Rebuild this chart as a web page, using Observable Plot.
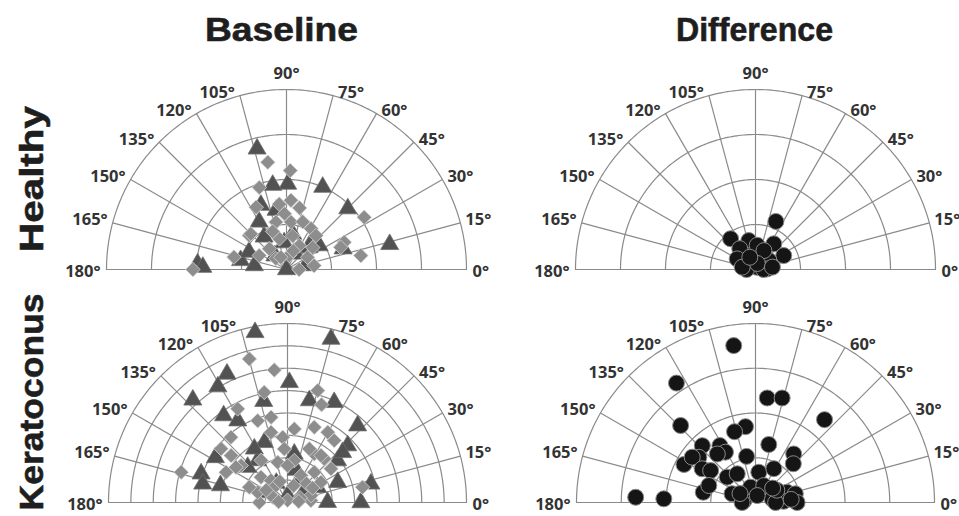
<!DOCTYPE html>
<html>
<head>
<meta charset="utf-8">
<script src="https://cdn.jsdelivr.net/npm/d3@7"></script>
<script src="https://cdn.jsdelivr.net/npm/@observablehq/plot@0.6"></script>
<style>
  html, body { margin: 0; padding: 0; background: #fff; overflow: hidden; }
  #fig { position: relative; width: 959px; height: 516px; overflow: hidden; }
  .panel { position: absolute; width: 480px; height: 240px; }
  .panel svg { max-width: none !important; }
  #labels { position: absolute; left: 0; top: 0; }
</style>
</head>
<body>
<div id="fig">
  <svg id="labels" width="959" height="516"></svg>
</div>
<script>
// Axis ticks of the half-polar plots (degrees)
const angleTicks = [0, 15, 30, 45, 60, 75, 90, 105, 120, 135, 150, 165, 180];

const columnTitles = ["Baseline", "Difference"];
const rowTitles = ["Healthy", "Keratoconus"];

// [axis (deg), magnitude] — healthy eyes, baseline, triangle series
const healthyBaselineTri = [
  [103.7, 1.38], [89.2, 0.95], [99.3, 0.95], [66.3, 1.0], [44.8, 0.96], [13.7, 1.18],
  [119.9, 0.61], [100, 0.67], [176.3, 0.99], [178.4, 0.93], [172.9, 0.36], [90, 0.0],
  [20.2, 0.67], [49.3, 0.47], [124.5, 0.44], [168.8, 0.52], [111.7, 0.77], [11.6, 0.22],
  [36.2, 0.45], [155, 0.46], [44.4, 0.35], [80, 0.4], [95, 0.3], [60, 0.2], [130, 0.2]
];
// healthy eyes, baseline, diamond series
const healthyBaselineDia = [
  [99.9, 1.21], [87.8, 1.1], [108.3, 0.96], [116, 0.77], [33.9, 1.04], [25.3, 0.71],
  [10.6, 0.84], [180, 1.04], [166.7, 0.6], [86.3, 0.77], [96.3, 0.73], [137.6, 0.56],
  [0, 0.14], [22.3, 0.65], [102.5, 0.54], [84.6, 0.53], [71.1, 0.56], [59, 0.53],
  [49, 0.5], [103, 0.35], [79.6, 0.38], [62, 0.3], [129.7, 0.3], [152.8, 0.34],
  [135, 0.56], [79, 0.16], [134, 0.17], [30, 0.27], [8, 0.31], [92, 0.62], [78, 0.7],
  [110, 0.45], [70, 0.22], [115, 0.15], [40, 0.38]
];
// healthy eyes, difference
const healthyDifference = [
  [67, 0.58], [129, 0.44], [103, 0.33], [54.5, 0.35], [26.3, 0.35], [34, 0.18],
  [109.7, 0.165], [140.6, 0.22], [127, 0.29], [169, 0.13], [54, 0.03], [3, 0.13],
  [86, 0.27], [66, 0.23], [180, 0.1], [0, 0.09], [150, 0.235], [73, 0.07], [8, 0.19],
  [170, 0.15], [115, 0.15]
];
// keratoconus eyes, baseline, triangle series
const keratoBaselineTri = [
  [100.8, 7.74], [75.1, 7.56], [115.2, 6.35], [121, 6.04], [132.7, 6.24], [89.1, 5.37],
  [103.2, 4.65], [77.9, 4.66], [65, 4.94], [126.3, 4.82], [121.3, 4.28], [47.6, 4.65],
  [111, 2.88], [43.4, 3.7], [125.4, 2.3], [82, 2.19], [39.9, 2.92], [161.6, 4.07],
  [167.6, 3.88], [165.8, 3.09], [0.4, 1.79], [0, 3.28], [12.6, 3.82], [22, 2.42],
  [148, 3.8], [42.3, 3.33], [138.4, 2.38], [26.9, 1.51], [121.7, 2.82],
  [90, 0.3], [60, 1.2], [120, 1.0], [30, 0.8], [150, 0.9], [75, 1.5]
];
// keratoconus eyes, baseline, diamond series
const keratoBaselineDia = [
  [104.9, 6.64], [95.7, 5.95], [101.9, 5.03], [74.9, 5.18], [70.8, 4.63], [118, 4.74],
  [100.9, 3.88], [130.9, 3.86], [141, 3.82], [140.2, 3.28], [164.1, 4.94], [84.7, 3.3],
  [70.4, 3.57], [60.2, 3.62], [53, 3.47], [61.2, 2.48], [49.9, 2.55], [122, 2.22],
  [103.2, 3.22], [94.2, 2.92], [11.5, 3.42], [180, 1.26], [4.9, 1.05], [141.5, 2.65],
  [153.8, 3.06], [145.6, 2.79], [110, 3.89], [67.9, 2.59], [54.5, 2.58], [37.8, 2.46],
  [93.4, 2.4], [136.3, 1.64], [126.9, 1.23], [63.4, 1.35], [48.5, 1.81], [31.2, 1.75],
  [16.6, 1.1], [160.9, 1.41], [158.2, 1.84], [90, 0.1], [80.8, 1.9], [103.7, 1.85],
  [90, 1.65], [45, 1.2], [135, 0.9], [20, 0.6], [160, 0.7], [110, 1.0], [70, 0.8],
  [30, 1.3], [150, 1.1], [5, 0.5], [175, 0.4]
];
// keratoconus eyes, difference
const keratoDifference = [
  [97.9, 3.54], [123.5, 3.2], [83.6, 2.35], [75.7, 2.41], [50.2, 2.41], [134.2, 2.4],
  [97.5, 1.71], [106.5, 1.65], [77.1, 1.33], [51.8, 1.38], [45.7, 1.21], [133.1, 1.74],
  [122, 1.5], [120.8, 1.31], [128.2, 1.38], [141.4, 1.62], [152, 1.81], [144.4, 1.74],
  [147.7, 1.41], [144.6, 1.23], [101, 1.05], [138.2, 0.85], [83.8, 0.68], [61.5, 0.86],
  [122.5, 0.76], [168.9, 1.19], [160, 1.11], [177.5, 2.68], [177.7, 2.05], [159.5, 0.56],
  [108, 0.36], [64, 0.42], [12.5, 0.38], [18, 0.74], [12.3, 0.91], [0, 0.93], [2.5, 0.63],
  [170, 0.26], [76, 0.16], [0, 0.45], [180, 0.3], [30, 0.55], [5, 0.8], [40, 0.5], [150, 0.4]
];

const GRID = "#8a8a8a";
const LABEL_FONT = "'Open Sans', Lato, sans-serif";
const rad = d => d * Math.PI / 180;
const polar = ([a, m]) => ({axis: a, mag: m, x: m * Math.cos(rad(a)), y: m * Math.sin(rad(a))});

const triStyle = {symbol: "triangle", r: 6.7, fill: "#525252", stroke: "#6e6e6e", strokeWidth: 0.8};
const diaStyle = {symbol: "diamond2", r: 6.6, fill: "#8d8d8d", stroke: "#d6d6d6", strokeWidth: 0.8};
const dotStyle = {symbol: "circle", r: 8, fill: "#151515", stroke: "#8a8a8a", strokeWidth: 1};

function halfPolar({rmax, rings, R, series}) {
  const W = 480, H = 240, cx = 240, cy = 210;
  const ringValues = d3.range(1, rings + 1).map(i => rmax * i / rings);
  const arcs = ringValues.flatMap(r => d3.range(0, 181, 1).map(a => ({ring: r, x: r * Math.cos(rad(a)), y: r * Math.sin(rad(a))})));
  const ticks = angleTicks.map(a => ({a, label: a + "°", x: rmax * Math.cos(rad(a)), y: rmax * Math.sin(rad(a))}));
  const textOpts = {x: "x", y: "y", text: "label", fontFamily: LABEL_FONT, fontWeight: "bold", fontSize: 16.5, fill: "#333"};
  return Plot.plot({
    width: W, height: H, margin: 0,
    x: {axis: null, domain: [-rmax, rmax], range: [cx - R, cx + R]},
    y: {axis: null, domain: [0, rmax], range: [cy, cy - R]},
    style: {overflow: "visible", background: "transparent"},
    marks: [
      Plot.line(arcs, {x: "x", y: "y", z: "ring", stroke: GRID, strokeWidth: 1.2}),
      Plot.link(ticks, {x1: () => 0, y1: () => 0, x2: "x", y2: "y", stroke: GRID, strokeWidth: 1.2}),
      Plot.text(ticks.filter(d => d.a > 0 && d.a < 90), {...textOpts, textAnchor: "start", dx: 5, dy: -3}),
      Plot.text(ticks.filter(d => d.a === 0), {...textOpts, textAnchor: "start", dx: 6, dy: 2}),
      Plot.text(ticks.filter(d => d.a === 90), {...textOpts, textAnchor: "middle", dy: -16}),
      Plot.text(ticks.filter(d => d.a > 90 && d.a < 180), {...textOpts, textAnchor: "end", dx: -5, dy: -3}),
      Plot.text(ticks.filter(d => d.a === 180), {...textOpts, textAnchor: "end", dx: -6, dy: 2}),
      ...series.map(([data, style]) => Plot.dot(data.map(polar), {x: "x", y: "y", ...style}))
    ]
  });
}

const panels = [
  {left: 45.5, top: 59, rmax: 2, rings: 4, R: 180, series: [[healthyBaselineTri, triStyle], [healthyBaselineDia, diaStyle]]},
  {left: 515, top: 59, rmax: 2, rings: 4, R: 180, series: [[healthyDifference, dotStyle]]},
  {left: 46.5, top: 292, rmax: 8, rings: 8, R: 179, series: [[keratoBaselineTri, triStyle], [keratoBaselineDia, diaStyle]]},
  {left: 515, top: 292, rmax: 4, rings: 4, R: 179, series: [[keratoDifference, dotStyle]]}
];

const fig = document.getElementById("fig");
for (const p of panels) {
  const box = document.createElement("div");
  box.className = "panel";
  box.style.left = p.left + "px";
  box.style.top = p.top + "px";
  box.appendChild(halfPolar(p));
  fig.insertBefore(box, document.getElementById("labels"));
}

// Column and row headings
const svg = d3.select("#labels");
const headFont = "'Liberation Sans', Arial, sans-serif";
svg.selectAll("text.col").data(columnTitles).join("text")
  .attr("class", "col")
  .attr("x", (d, i) => [281.5, 754.5][i]).attr("y", 41)
  .attr("text-anchor", "middle")
  .attr("textLength", (d, i) => [153, 157][i]).attr("lengthAdjust", "spacingAndGlyphs")
  .attr("font-family", headFont).attr("font-weight", "bold").attr("font-size", 34)
  .attr("fill", "#1e1e1e").attr("stroke", "#1e1e1e").attr("stroke-width", 0.6)
  .text(d => d);
svg.selectAll("text.row").data(rowTitles).join("text")
  .attr("class", "row")
  .attr("transform", (d, i) => `translate(43,${[179, 402][i]}) rotate(-90)`)
  .attr("text-anchor", "middle")
  .attr("textLength", (d, i) => [146, 217][i]).attr("lengthAdjust", "spacingAndGlyphs")
  .attr("font-family", headFont).attr("font-weight", "bold").attr("font-size", 34)
  .attr("fill", "#1e1e1e").attr("stroke", "#1e1e1e").attr("stroke-width", 0.6)
  .text(d => d);
</script>
</body>
</html>
